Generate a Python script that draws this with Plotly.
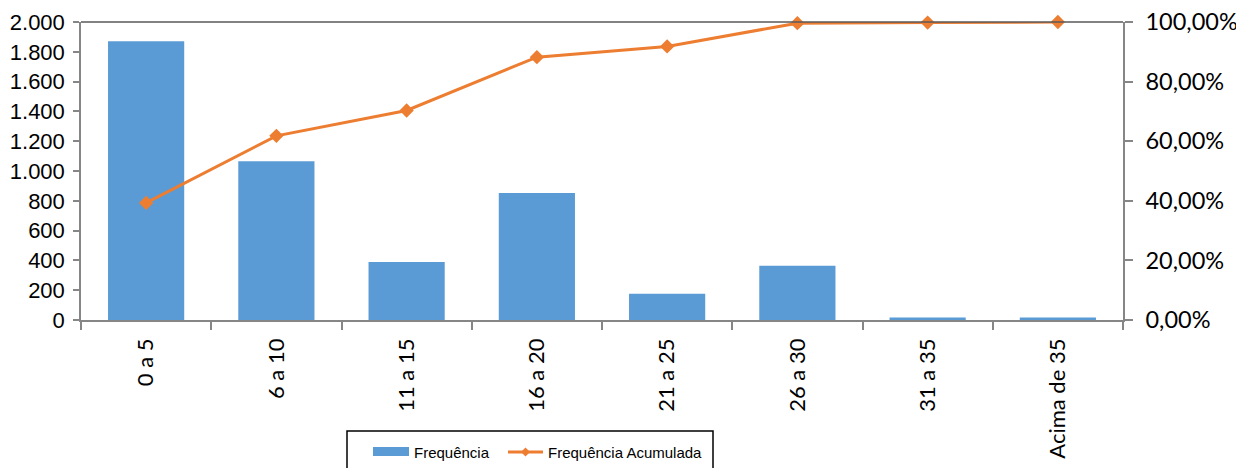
import plotly.graph_objects as go

categories = ["0 a 5", "6 a 10", "11 a 15", "16 a 20", "21 a 25", "26 a 30", "31 a 35", "Acima de 35"]
frequencia = [1870, 1065, 390, 852, 176, 364, 16, 16]
freq_acumulada = [0.393, 0.618, 0.703, 0.882, 0.918, 0.996, 0.998, 1.0]
left_ticks = [0, 200, 400, 600, 800, 1000, 1200, 1400, 1600, 1800, 2000]
right_ticks = [0, 0.2, 0.4, 0.6, 0.8, 1.0]

OFF = 8  # default page body margin
W, H = 1244 - OFF, 468 - OFF
L, R, T, B = 81, 1123, 22, 320  # plot area in window pixels

def px(x):
    return (x - L) / (R - L)

def py(y):
    return (B - y) / (B - T)

BLUE = "#5B9BD5"
ORANGE = "#ED7D31"
AXIS = "#868686"

fig = go.Figure()
fig.add_trace(go.Bar(x=categories, y=frequencia, name="Frequência",
                     marker=dict(color=BLUE, line=dict(width=0)), yaxis="y"))
fig.add_trace(go.Scatter(x=categories, y=freq_acumulada, name="Frequência Acumulada",
                         mode="lines+markers", yaxis="y2", cliponaxis=False,
                         line=dict(color=ORANGE, width=3),
                         marker=dict(symbol="diamond", size=11, color=ORANGE)))

tickfont_l = dict(family="Liberation Sans, Arial, sans-serif", size=22, color="#000000")
tickfont_r = dict(family="Lato, Open Sans, sans-serif", size=23.5, color="#000000")

shapes = [
    dict(type="line", xref="paper", yref="paper", x0=0, x1=1, y0=1, y1=1,
         line=dict(color="#595959", width=1.5)),
    # legend box
    dict(type="rect", xref="paper", yref="paper", x0=px(347), x1=px(713), y0=py(490), y1=py(431),
         line=dict(color="#000000", width=1.5), fillcolor="rgba(0,0,0,0)"),
    # bar swatch
    dict(type="rect", xref="paper", yref="paper", x0=px(373), x1=px(409), y0=py(456), y1=py(447),
         line=dict(width=0), fillcolor=BLUE),
    # line swatch
    dict(type="line", xref="paper", yref="paper", x0=px(508), x1=px(543), y0=py(452), y1=py(452),
         line=dict(color=ORANGE, width=3)),
    dict(type="path", xref="paper", yref="paper",
         path="M {},{} L {},{} L {},{} L {},{} Z".format(px(521), py(452), px(525.5), py(447.5),
                                                         px(530), py(452), px(525.5), py(456.5)),
         line=dict(width=0), fillcolor=ORANGE),
]

legend_font = dict(family="Liberation Sans, Arial, sans-serif", size=15, color="#000000")
annotations = [
    dict(xref="paper", yref="paper", x=px(412), y=py(452), text="Frequência", showarrow=False,
         xanchor="left", yanchor="middle", font=legend_font),
    dict(xref="paper", yref="paper", x=px(546), y=py(452), text="Frequência Acumulada", showarrow=False,
         xanchor="left", yanchor="middle", font=legend_font),
]

fig.update_layout(
    width=W, height=H,
    margin=dict(l=L - OFF, r=W - (R - OFF), t=T - OFF, b=H - (B - OFF), pad=0),
    paper_bgcolor="white", plot_bgcolor="white",
    separators=",.",
    showlegend=False,
    bargap=0.415,
    shapes=shapes,
    annotations=annotations,
    xaxis=dict(type="category", showline=True, linecolor=AXIS, linewidth=1.5, automargin=False,
               ticks="outside", tickson="boundaries", ticklen=8, tickcolor=AXIS, tickwidth=1.5,
               tickangle=-90, tickfont=dict(family="Lato, Open Sans, sans-serif", size=22, color="#000000"),
               showgrid=False, zeroline=False, ticklabelstandoff=8, ticklabeloverflow="allow"),
    yaxis=dict(range=[0, 2000], tickvals=left_ticks, tickformat=",d", showgrid=False, zeroline=False,
               showline=True, linecolor=AXIS, linewidth=1.5, ticks="outside", ticklen=6, automargin=False,
               tickcolor=AXIS, tickwidth=1.5, tickfont=tickfont_l, ticklabelstandoff=4,
               ticklabeloverflow="allow"),
    yaxis2=dict(range=[0, 1], tickvals=right_ticks, tickformat=".2%", overlaying="y", side="right",
                showgrid=False, zeroline=False, showline=True, linecolor=AXIS, linewidth=1.5,
                ticks="outside", ticklen=8, tickcolor=AXIS, tickwidth=1.5, tickfont=tickfont_r,
                ticklabelstandoff=8, automargin=False, ticklabeloverflow="allow"),
)

fig.write_html("out.html")
